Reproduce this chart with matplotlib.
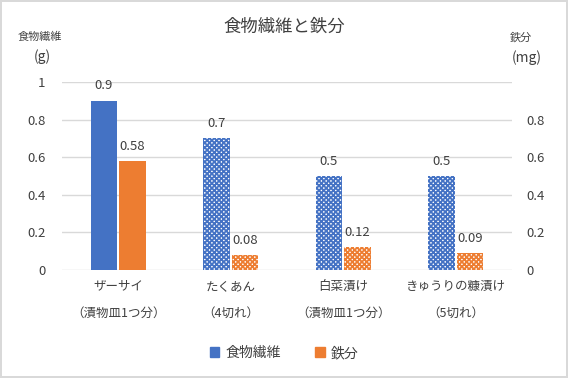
import matplotlib.pyplot as plt
from matplotlib.patches import Patch
import numpy as np

plt.rcParams['font.family'] = ['Noto Sans CJK JP', 'DejaVu Sans']
plt.rcParams['hatch.linewidth'] = 1.3

categories = ['ザーサイ\n\n（漬物皿1つ分）', 'たくあん\n\n（4切れ）', '白菜漬け\n\n（漬物皿1つ分）', 'きゅうりの糠漬け\n\n（5切れ）']
fiber = [0.9, 0.7, 0.5, 0.5]
iron = [0.58, 0.08, 0.12, 0.09]
left_ticks = [0, 0.2, 0.4, 0.6, 0.8, 1]
right_ticks = [0, 0.2, 0.4, 0.6, 0.8]

blue = '#4472C4'
orange = '#ED7D31'

fig = plt.figure(figsize=(5.68, 3.78), dpi=100)
fig.patch.set_edgecolor('#d9d9d9')
fig.patch.set_linewidth(1.5)

ax = fig.add_axes([62 / 568, 108 / 378, 450 / 568, 188 / 378])
ax2 = ax.twinx()

x = np.arange(len(categories))
w = 0.235
off = 0.128

for i in range(len(categories)):
    if i == 0:
        b1 = ax.bar(x[i] - off, fiber[i], w, color=blue)
        b2 = ax2.bar(x[i] + off, iron[i], w, color=orange)
    else:
        b1 = ax.bar(x[i] - off, fiber[i], w, facecolor='white', edgecolor=blue,
                    hatch='xxxxxxx', linewidth=0)
        b2 = ax2.bar(x[i] + off, iron[i], w, facecolor='white', edgecolor=orange,
                     hatch='xxxxxxx', linewidth=0)
    ax.bar_label(b1, labels=[f'{fiber[i]:g}'], padding=6, fontsize=9.5, color='#404040')
    ax2.bar_label(b2, labels=[f'{iron[i]:g}'], padding=6, fontsize=9.5, color='#404040')

for a in (ax, ax2):
    a.set_ylim(0, 1)
    a.set_xlim(-0.5, len(categories) - 0.5)
    for s in a.spines.values():
        s.set_visible(False)
    a.tick_params(length=0, labelsize=9.5, labelcolor='#404040')

ax.set_yticks(left_ticks)
ax.set_yticklabels([f'{t:g}' for t in left_ticks])
ax2.set_yticks(right_ticks)
ax2.set_yticklabels([f'{t:g}' for t in right_ticks])
ax.tick_params(axis='y', pad=12)
ax2.tick_params(axis='y', pad=10)
ax.grid(axis='y', color='#d9d9d9', linewidth=1)
ax.set_axisbelow(True)

ax.set_xticks(x)
ax.set_xticklabels(categories, fontsize=9, linespacing=1.05)
ax.tick_params(axis='x', pad=7)

fig.text(0.5, 1 - 27 / 378, '食物繊維と鉄分', ha='center', va='center', fontsize=12.5, color='#404040')
fig.text(40 / 568, 1 - 37 / 378, '食物繊維', ha='center', va='center', fontsize=8, color='#404040')
fig.text(42 / 568, 1 - 57 / 378, '(g)', ha='center', va='center', fontsize=10, color='#404040')
fig.text(521 / 568, 1 - 37 / 378, '鉄分', ha='center', va='center', fontsize=8, color='#404040')
fig.text(527 / 568, 1 - 58 / 378, '(mg)', ha='center', va='center', fontsize=10, color='#404040')

handles = [Patch(color=blue, label='食物繊維'), Patch(color=orange, label='鉄分')]
fig.legend(handles=handles, loc='center', bbox_to_anchor=(0.5, 1 - 353 / 378), ncol=2,
           frameon=False, handlelength=0.7, handleheight=0.7, handletextpad=0.4,
           columnspacing=2.5, fontsize=10, labelcolor='#404040')

fig.savefig('out.png', dpi=100)
